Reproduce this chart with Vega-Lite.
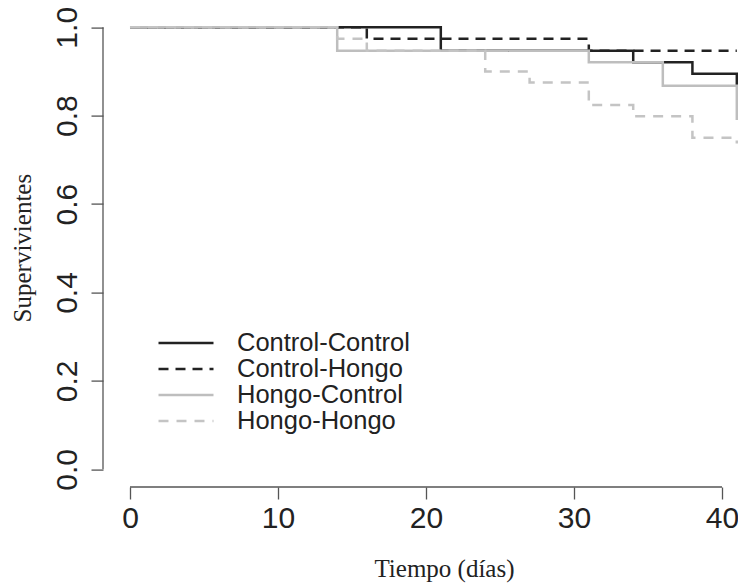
{
  "$schema": "https://vega.github.io/schema/vega-lite/v6.json",
  "autosize": {"type": "none"},
  "padding": {"left": 103, "top": 9.6, "right": 0, "bottom": 98},
  "width": 635,
  "height": 477.4,
  "background": "white",
  "config": {
    "view": {"stroke": null},
    "axis": {
      "domain": false,
      "grid": false,
      "tickColor": "#555",
      "tickWidth": 1.3,
      "tickSize": 12,
      "labelFont": "Liberation Sans",
      "labelFontSize": 30,
      "labelColor": "#222",
      "labelPadding": 7,
      "labelOverlap": false,
      "labelBound": false,
      "titleFont": "Liberation Serif",
      "titleFontSize": 25,
      "titleFontWeight": "normal",
      "titleColor": "#222"
    },
    "legend": {
      "labelFont": "Liberation Sans",
      "labelFontSize": 25.5,
      "labelColor": "#222",
      "labelLimit": 400
    }
  },
  "datasets": {
    "surv": [
      {"serie": "Control-Control", "dias": 0, "sup": 1.0},
      {"serie": "Control-Control", "dias": 21, "sup": 0.947},
      {"serie": "Control-Control", "dias": 34, "sup": 0.921},
      {"serie": "Control-Control", "dias": 38, "sup": 0.895},
      {"serie": "Control-Control", "dias": 41, "sup": 0.868},
      {"serie": "Control-Hongo", "dias": 0, "sup": 1.0},
      {"serie": "Control-Hongo", "dias": 16, "sup": 0.974},
      {"serie": "Control-Hongo", "dias": 31, "sup": 0.947},
      {"serie": "Control-Hongo", "dias": 41, "sup": 0.947},
      {"serie": "Hongo-Control", "dias": 0, "sup": 1.0},
      {"serie": "Hongo-Control", "dias": 14, "sup": 0.947},
      {"serie": "Hongo-Control", "dias": 31, "sup": 0.921},
      {"serie": "Hongo-Control", "dias": 36, "sup": 0.868},
      {"serie": "Hongo-Control", "dias": 41, "sup": 0.79},
      {"serie": "Hongo-Hongo", "dias": 0, "sup": 1.0},
      {"serie": "Hongo-Hongo", "dias": 14, "sup": 0.974},
      {"serie": "Hongo-Hongo", "dias": 16, "sup": 0.947},
      {"serie": "Hongo-Hongo", "dias": 24, "sup": 0.9},
      {"serie": "Hongo-Hongo", "dias": 27, "sup": 0.875},
      {"serie": "Hongo-Hongo", "dias": 31, "sup": 0.824},
      {"serie": "Hongo-Hongo", "dias": 34, "sup": 0.799},
      {"serie": "Hongo-Hongo", "dias": 38, "sup": 0.75},
      {"serie": "Hongo-Hongo", "dias": 41, "sup": 0.737}
    ],
    "uno": [{"k": 1}]
  },
  "layer": [
    {
      "data": {"name": "surv"},
      "mark": {"type": "line", "interpolate": "step-after", "strokeWidth": 2.5, "clip": false},
      "encoding": {
        "x": {
          "field": "dias", "type": "quantitative",
          "scale": {"domain": [-1.824, 41.08], "nice": false, "zero": false},
          "axis": {"values": [0, 10, 20, 30, 40], "labelPadding": 4, "title": "Tiempo (días)", "titleX": 341, "titleY": 81, "titleBaseline": "middle", "titleAlign": "center"}
        },
        "y": {
          "field": "sup", "type": "quantitative",
          "scale": {"domain": [-0.04, 1.04], "nice": false, "zero": false},
          "axis": {"values": [0, 0.2, 0.4, 0.6, 0.8, 1.0], "format": ".1f", "labelAngle": -90, "labelAlign": "center", "labelBaseline": "bottom", "labelPadding": 9, "title": "Supervivientes", "titleX": -81, "titleY": 238, "titleBaseline": "middle", "titleAlign": "center", "titleAngle": -90}
        },
        "color": {
          "field": "serie", "type": "nominal",
          "scale": {"domain": ["Control-Control", "Control-Hongo", "Hongo-Control", "Hongo-Hongo"], "range": ["#222222", "#222222", "#bebebe", "#c4c4c4"]},
          "legend": {"title": null, "orient": "none", "legendX": 54, "legendY": 321, "symbolType": "stroke", "symbolSize": 3025, "symbolStrokeWidth": 2.5, "labelOffset": 22, "clipHeight": 25, "rowPadding": -1}
        },
        "strokeDash": {
          "field": "serie", "type": "nominal",
          "scale": {"domain": ["Control-Control", "Control-Hongo", "Hongo-Control", "Hongo-Hongo"], "range": [[1, 0], [10, 7], [1, 0], [10, 8]]},
          "legend": {"title": null, "orient": "none", "legendX": 54, "legendY": 321, "symbolType": "stroke", "symbolSize": 3025, "symbolStrokeWidth": 2.5, "labelOffset": 22, "clipHeight": 25, "rowPadding": -1}
        },
        "order": {"field": "dias"}
      }
    },
    {
      "data": {"name": "uno"},
      "mark": {"type": "rule", "color": "#555", "strokeWidth": 1.3, "clip": false},
      "encoding": {
        "x": {"datum": 0, "type": "quantitative"},
        "x2": {"datum": 40},
        "y": {"datum": -0.04, "type": "quantitative"}
      }
    },
    {
      "data": {"name": "uno"},
      "mark": {"type": "rule", "color": "#555", "strokeWidth": 1.3, "clip": false},
      "encoding": {
        "x": {"datum": -1.824, "type": "quantitative"},
        "y": {"datum": 0, "type": "quantitative"},
        "y2": {"datum": 1}
      }
    }
  ]
}
